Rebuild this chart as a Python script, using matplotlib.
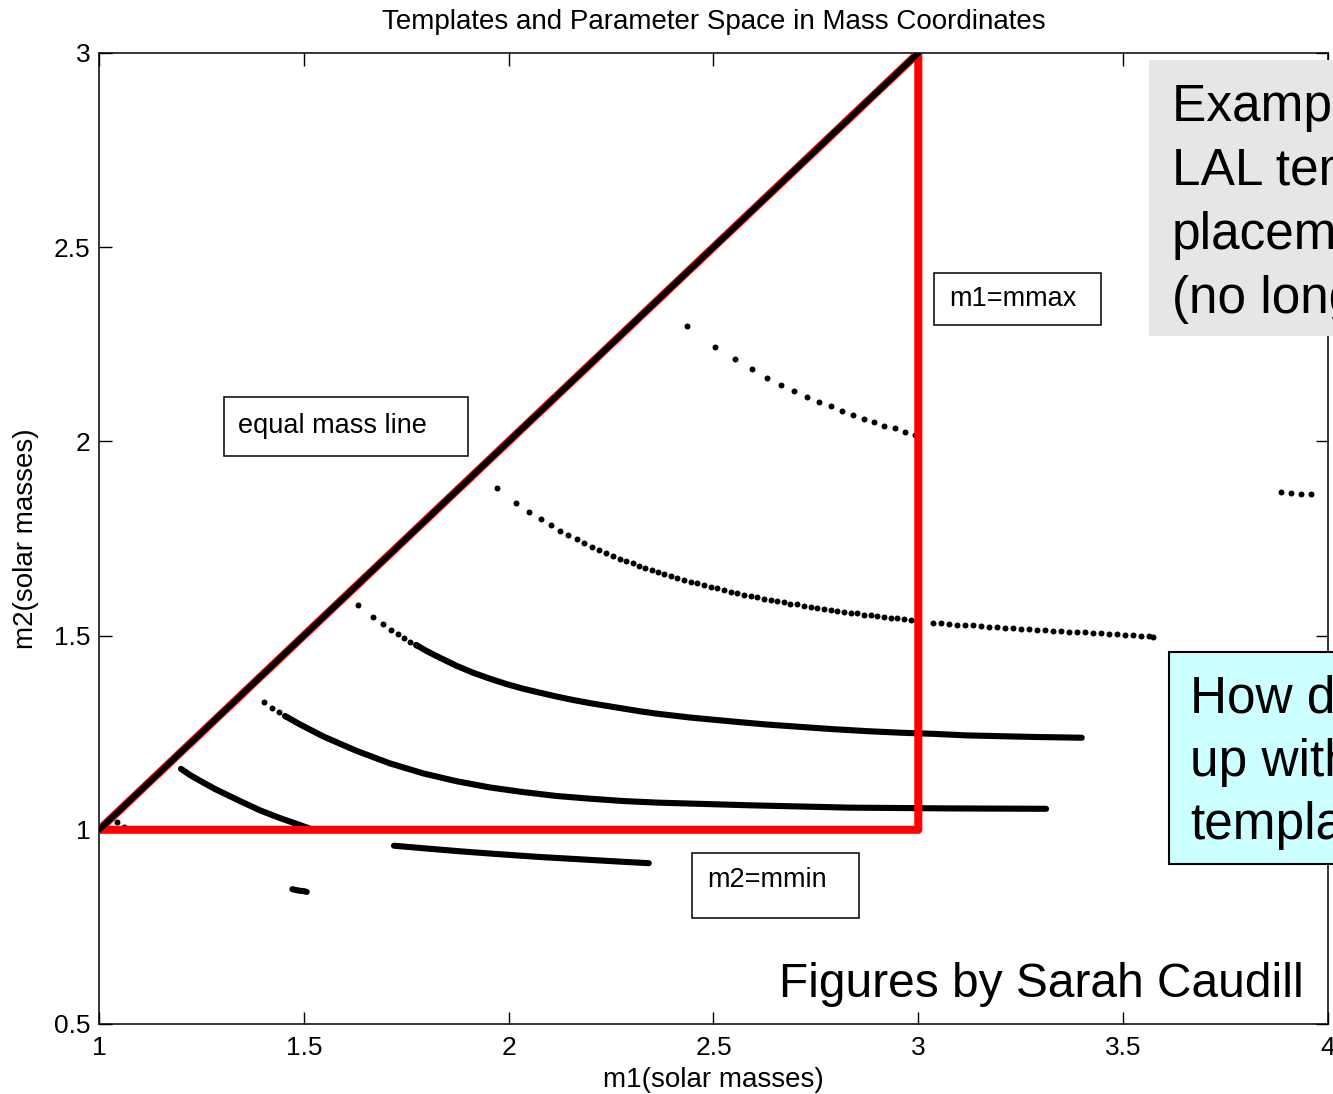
import matplotlib.pyplot as plt
from matplotlib.patches import Rectangle

plt.rcParams['font.family'] = ['Liberation Sans', 'DejaVu Sans']

# boundary of the parameter space and the equal mass line
bound_m1 = [1.0, 3.0, 3.0, 1.0]
bound_m2 = [1.0, 3.0, 1.0, 1.0]
equal_m = [1.0, 3.0]

# template rows drawn as separate dots
row_a_m1 = [2.436, 2.504, 2.553, 2.595, 2.631, 2.666, 2.697, 2.728, 2.758, 2.786,
            2.813, 2.840, 2.867, 2.893, 2.917, 2.943, 2.967, 2.992]
row_a_m2 = [2.298, 2.244, 2.211, 2.186, 2.164, 2.146, 2.130, 2.115, 2.102, 2.090,
            2.079, 2.068, 2.058, 2.049, 2.040, 2.034, 2.024, 2.017]

row_b_m1 = [1.971, 2.018, 2.050, 2.078, 2.103, 2.125, 2.146, 2.166, 2.185, 2.203,
            2.220, 2.238, 2.255, 2.271, 2.286, 2.303, 2.318, 2.334, 2.349, 2.365,
            2.380, 2.396, 2.412, 2.428, 2.444, 2.460, 2.477, 2.493, 2.509, 2.526,
            2.542, 2.558, 2.574, 2.591, 2.607, 2.623, 2.640, 2.656, 2.672, 2.688,
            2.705, 2.721, 2.737, 2.753, 2.770, 2.786, 2.802, 2.819, 2.835, 2.851,
            2.867, 2.884, 2.900, 2.916, 2.933, 2.949, 2.965, 2.981, 2.996]
row_b_m2 = [1.879, 1.841, 1.817, 1.799, 1.784, 1.770, 1.759, 1.748, 1.738, 1.728,
            1.720, 1.713, 1.705, 1.698, 1.692, 1.686, 1.680, 1.674, 1.669, 1.664,
            1.659, 1.653, 1.648, 1.644, 1.639, 1.635, 1.630, 1.626, 1.622, 1.617,
            1.613, 1.610, 1.605, 1.602, 1.599, 1.595, 1.592, 1.588, 1.586, 1.582,
            1.580, 1.576, 1.574, 1.571, 1.569, 1.566, 1.563, 1.561, 1.558, 1.557,
            1.554, 1.552, 1.550, 1.548, 1.546, 1.544, 1.542, 1.540, 1.538]

row_b2_m1 = [3.037, 3.056, 3.076, 3.095, 3.115, 3.134, 3.154, 3.173, 3.193, 3.212,
             3.232, 3.251, 3.271, 3.290, 3.310, 3.329, 3.349, 3.369, 3.388, 3.408,
             3.427, 3.447, 3.466, 3.486, 3.505, 3.525, 3.544, 3.564, 3.574]
row_b2_m2 = [1.533, 1.532, 1.530, 1.528, 1.527, 1.526, 1.525, 1.523, 1.521, 1.520,
             1.519, 1.518, 1.516, 1.515, 1.514, 1.513, 1.512, 1.510, 1.509, 1.508,
             1.507, 1.506, 1.505, 1.504, 1.502, 1.501, 1.500, 1.498, 1.496]

row_far_m1 = [3.885, 3.909, 3.935, 3.959]
row_far_m2 = [1.869, 1.867, 1.865, 1.864]

row_c_dot_m1 = [1.633, 1.668, 1.692, 1.712, 1.730, 1.745, 1.759, 1.774]
row_c_dot_m2 = [1.579, 1.549, 1.530, 1.514, 1.504, 1.493, 1.484, 1.476]
row_d_dot_m1 = [1.403, 1.422, 1.439, 1.454]
row_d_dot_m2 = [1.329, 1.314, 1.302, 1.293]
stray_m1 = [1.044, 1.062]
stray_m2 = [1.021, 1.006]

# template rows so dense that the dots merge into a line
row_c_m1 = [1.774, 1.800, 1.832, 1.873, 1.914, 1.954, 1.995, 2.036, 2.076, 2.117,
            2.158, 2.199, 2.239, 2.280, 2.321, 2.361, 2.402, 2.443, 2.483, 2.524,
            2.565, 2.630, 2.711, 2.792, 2.874, 2.955, 3.037, 3.118, 3.199, 3.281, 3.399]
row_c_m2 = [1.476, 1.460, 1.443, 1.422, 1.404, 1.389, 1.375, 1.363, 1.353, 1.343,
            1.334, 1.326, 1.319, 1.312, 1.305, 1.299, 1.294, 1.289, 1.285, 1.281,
            1.277, 1.271, 1.265, 1.259, 1.254, 1.250, 1.247, 1.243, 1.241, 1.239, 1.237]

row_d_m1 = [1.454, 1.491, 1.548, 1.629, 1.710, 1.792, 1.873, 1.954, 2.036, 2.117,
            2.199, 2.280, 2.361, 2.589, 2.833, 3.077, 3.312]
row_d_m2 = [1.293, 1.271, 1.240, 1.203, 1.171, 1.145, 1.125, 1.109, 1.097, 1.087,
            1.080, 1.074, 1.070, 1.063, 1.057, 1.055, 1.054]

row_e_m1 = [1.200, 1.222, 1.247, 1.283, 1.344, 1.393, 1.442, 1.491, 1.517]
row_e_m2 = [1.157, 1.141, 1.126, 1.105, 1.074, 1.050, 1.030, 1.012, 1.002]

row_f_m1 = [1.720, 1.808, 1.888, 1.979, 2.075, 2.174, 2.272, 2.342]
row_f_m2 = [0.959, 0.951, 0.944, 0.937, 0.930, 0.924, 0.918, 0.914]

row_g_m1 = [1.472, 1.480, 1.490, 1.500, 1.507]
row_g_m2 = [0.847, 0.845, 0.843, 0.842, 0.840]

x_ticks = [1, 1.5, 2, 2.5, 3, 3.5, 4]
y_ticks = [0.5, 1, 1.5, 2, 2.5, 3]
x_labels = ['1', '1.5', '2', '2.5', '3', '3.5', '4']
y_labels = ['0.5', '1', '1.5', '2', '2.5', '3']

fig = plt.figure(figsize=(13.33, 10.94), dpi=100)
ax = fig.add_axes([0.0743, 0.064, 0.9219, 0.8876])

dot_rows = [(row_a_m1, row_a_m2), (row_b_m1, row_b_m2), (row_b2_m1, row_b2_m2),
            (row_far_m1, row_far_m2), (row_c_dot_m1, row_c_dot_m2),
            (row_d_dot_m1, row_d_dot_m2), (stray_m1, stray_m2)]
for m1, m2 in dot_rows:
    ax.plot(m1, m2, 'o', color='black', markersize=4.3, markeredgewidth=0, zorder=3)

line_rows = [(row_c_m1, row_c_m2), (row_d_m1, row_d_m2), (row_e_m1, row_e_m2),
             (row_f_m1, row_f_m2), (row_g_m1, row_g_m2)]
for m1, m2 in line_rows:
    ax.plot(m1, m2, '-', color='black', linewidth=4.4, solid_capstyle='round',
            solid_joinstyle='round', zorder=3)

ax.plot(bound_m1, bound_m2, color='red', linewidth=5.8, zorder=4)
ax.plot(equal_m, equal_m, color='black', linewidth=4.2, solid_capstyle='round', zorder=5)

ax.set_xlim(1, 4)
ax.set_ylim(0.5, 3)
ax.set_xticks(x_ticks)
ax.set_xticklabels(x_labels)
ax.set_yticks(y_ticks)
ax.set_yticklabels(y_labels)
ax.tick_params(direction='in', length=9, width=1, top=True, right=True,
               labelsize=19)
ax.tick_params(axis='x', pad=9)
ax.tick_params(axis='y', pad=6)
for s in ax.spines.values():
    s.set_linewidth(1.1)

ax.set_title('Templates and Parameter Space in Mass Coordinates', fontsize=20, pad=17)
ax.set_xlabel('m1(solar masses)', fontsize=20, labelpad=5)
ax.set_ylabel('m2(solar masses)', fontsize=20, labelpad=11)

# annotation boxes
boxes = [((1.305, 1.962), 0.596, 0.152, (1.339, 2.040), 'equal mass line'),
         ((3.038, 2.300), 0.408, 0.134, (3.075, 2.367), 'm1=mmax'),
         ((2.448, 0.773), 0.407, 0.167, (2.484, 0.871), 'm2=mmin')]
for xy, w, h, txy, s in boxes:
    ax.add_patch(Rectangle(xy, w, h, facecolor='white', edgecolor='black',
                           linewidth=1.1, zorder=6))
    ax.text(txy[0], txy[1], s, fontsize=19.5, va='center', ha='left', zorder=7)

# slide overlays
fig.add_artist(Rectangle((0.862, 0.693), 0.2, 0.252, transform=fig.transFigure,
                         facecolor='#e6e6e6', edgecolor='none'))
gray_lines = ['Example of', 'LAL template', 'placement', '(no longer used)']
gray_y = [0.8894, 0.8309, 0.7724, 0.7139]
for s, y in zip(gray_lines, gray_y):
    fig.text(0.879, y, s, fontsize=37, va='baseline', ha='left')

fig.add_artist(Rectangle((0.877, 0.210), 0.2, 0.194, transform=fig.transFigure,
                         facecolor='#ccffff', edgecolor='black', linewidth=1.5))
cyan_lines = ['How do we end', 'up with these', 'templates?']
cyan_y = [0.3483, 0.2907, 0.2331]
for s, y in zip(cyan_lines, cyan_y):
    fig.text(0.8927, y, s, fontsize=37, va='baseline', ha='left')

fig.text(0.5844, 0.0887, 'Figures by Sarah Caudill', fontsize=34.5,
         va='baseline', ha='left')

fig.savefig('out.png', dpi=100)
